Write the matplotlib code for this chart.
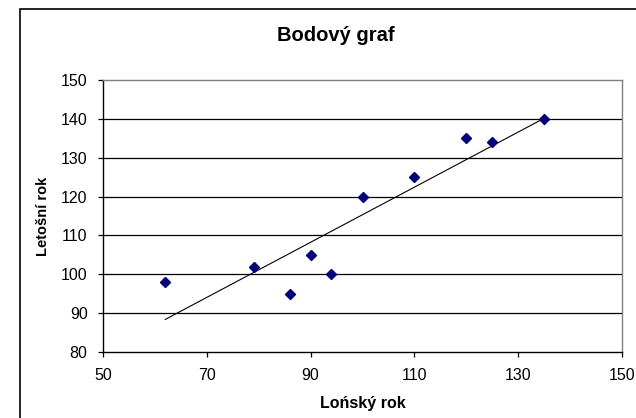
import numpy as np
import matplotlib
matplotlib.use("Agg")
import matplotlib.pyplot as plt
from matplotlib.patches import Rectangle

# data
last_year = [62, 79, 86, 90, 94, 100, 110, 120, 125, 135]
this_year = [98, 102, 95, 105, 100, 120, 125, 135, 134, 140]
x_ticks = [50, 70, 90, 110, 130, 150]
y_ticks = [80, 90, 100, 110, 120, 130, 140, 150]

plt.rcParams['font.family'] = ['Liberation Sans', 'DejaVu Sans']

fig = plt.figure(figsize=(6.36, 4.18), dpi=100)
ax = fig.add_axes([103 / 636, 1 - 352 / 418, 519 / 636, 272 / 418])

# outer chart frame (runs off the right and bottom edge)
fig.patches.append(Rectangle((19.5 / 636, -0.1), 1.2, 0.1 + 1 - 9.5 / 418,
                             transform=fig.transFigure, fill=False,
                             edgecolor='black', linewidth=1.2))

ax.set_xlim(50, 150)
ax.set_ylim(80, 150)
ax.set_xticks(x_ticks)
ax.set_yticks(y_ticks)

# horizontal grid lines
for v in y_ticks[1:-1]:
    ax.axhline(v, color='black', linewidth=0.9, zorder=1)

ax.plot(last_year, this_year, linestyle='none', marker='D', markersize=5.5,
        color='#000080', zorder=3)

# linear trend line over the data range
slope, icpt = np.polyfit(last_year, this_year, 1)
xs = np.array([min(last_year), max(last_year)])
ax.plot(xs, slope * xs + icpt, color='black', linewidth=0.8, zorder=2)

for side in ['left', 'bottom']:
    ax.spines[side].set_color('black')
    ax.spines[side].set_linewidth(1.0)
for side in ['top', 'right']:
    ax.spines[side].set_color('#808080')
    ax.spines[side].set_linewidth(1.0)

ax.tick_params(axis='both', direction='out', length=3.6, width=0.9,
               labelsize=11.5, colors='black')
ax.tick_params(axis='x', pad=8)
ax.tick_params(axis='y', pad=7.5)

ax.set_title('Bodový graf', fontsize=14.5, fontweight='bold',
             x=(335.5 - 103) / 519, y=(352 - 40.7) / 272, pad=0, va='baseline')

ax.set_xlabel('Lońský rok', fontsize=11.5, fontweight='bold')
ax.xaxis.label.set_verticalalignment('baseline')
ax.xaxis.set_label_coords(0.5, (352 - 407.7) / 272)

ax.set_ylabel('Letošní rok', fontsize=10.5, fontweight='bold')
ax.yaxis.label.set_verticalalignment('center')
ax.yaxis.set_label_coords((43 - 103) / 519, 0.5)

fig.savefig('out.png', dpi=100)
